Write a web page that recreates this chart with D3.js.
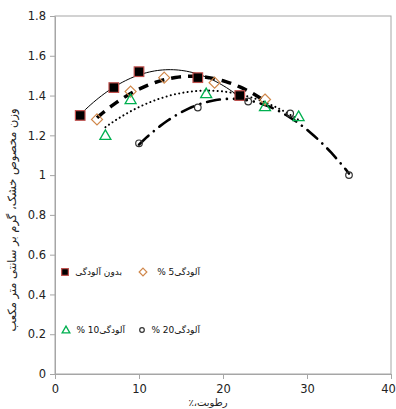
<!DOCTYPE html>
<html>
<head>
<meta charset="utf-8">
<script src="https://cdn.jsdelivr.net/npm/d3@7"></script>
<style>
  body { margin: 0; background: #fff; }
  text { font-family: "DejaVu Sans", sans-serif; }
</style>
</head>
<body>
<div id="chart"></div>
<script>
// moisture (%) vs dry density
const xNone = [3, 7, 10, 17, 22]
const yNone = [1.30, 1.44, 1.52, 1.49, 1.40]
const x5 = [5, 9, 13, 19, 25]
const y5 = [1.28, 1.42, 1.49, 1.465, 1.38]
const x10 = [6, 9, 18, 25, 29]
const y10 = [1.20, 1.38, 1.41, 1.345, 1.295]
const x20 = [10, 17, 23, 28, 35]
const y20 = [1.16, 1.34, 1.37, 1.31, 1.00]

const xTicks = [0, 10, 20, 30, 40]
const yTicks = [0, 0.2, 0.4, 0.6, 0.8, 1, 1.2, 1.4, 1.6, 1.8]

const labels = ["بدون آلودگی", "آلودگی5 %", "آلودگی10 %", "آلودگی20 %"]
const yTitle = "وزن مخصوص خشک، گرم بر سانتی متر مکعب"
const xTitle = "رطوبت،٪"

var width = 396, height = 409
var margin = {top: 16, right: 5, bottom: 35, left: 55}

var svg = d3.select("#chart").append("svg")
    .attr("width", width)
    .attr("height", height)

var x = d3.scaleLinear().domain([0, 40]).range([margin.left, width - margin.right])
var y = d3.scaleLinear().domain([0, 1.8]).range([height - margin.bottom, margin.top])

// plot frame
svg.append("rect")
    .attr("x", x(0)).attr("y", y(1.8))
    .attr("width", x(40) - x(0)).attr("height", y(0) - y(1.8))
    .attr("fill", "none").attr("stroke", "#a6a6a6")

var xAxis = svg.append("g")
    .attr("transform", "translate(0," + y(0) + ")")
    .call(d3.axisBottom(x).tickValues(xTicks).tickSize(5).tickSizeOuter(0))
var yAxis = svg.append("g")
    .attr("transform", "translate(" + x(0) + ",0)")
    .call(d3.axisLeft(y).tickValues(yTicks).tickSize(5).tickSizeOuter(0).tickFormat(d3.format("")))
;[xAxis, yAxis].forEach(a => {
    a.select(".domain").attr("stroke", "#a6a6a6")
    a.selectAll(".tick line").attr("stroke", "#a6a6a6")
    a.selectAll(".tick text").attr("fill", "#222").style("font-size", "11.5px")
})
xAxis.selectAll(".tick text").attr("dy", "0.95em")
// last label sits at the window edge, nudge it in
xAxis.selectAll(".tick text").filter(d => d == 40).attr("dx", "-3px")
yAxis.selectAll(".tick text").attr("dx", "-1px")

// quadratic least-squares trendline, like excel's polynomial trend
function quadFit(xs, ys) {
    let s = [0, 0, 0, 0, 0], t = [0, 0, 0]
    xs.forEach((xi, i) => {
        for (let k = 0; k < 5; k++) s[k] += Math.pow(xi, k)
        for (let k = 0; k < 3; k++) t[k] += ys[i] * Math.pow(xi, k)
    })
    let m = [[s[0], s[1], s[2], t[0]], [s[1], s[2], s[3], t[1]], [s[2], s[3], s[4], t[2]]]
    for (let i = 0; i < 3; i++) {
        for (let j = i + 1; j < 3; j++) {
            let f = m[j][i] / m[i][i]
            for (let k = i; k < 4; k++) m[j][k] -= f * m[i][k]
        }
    }
    let c = [0, 0, 0]
    for (let i = 2; i >= 0; i--) {
        let v = m[i][3]
        for (let k = i + 1; k < 3; k++) v -= m[i][k] * c[k]
        c[i] = v / m[i][i]
    }
    return v => c[0] + c[1] * v + c[2] * v * v
}

var series = [
    {xs: xNone, ys: yNone, dash: null, width: 1, cap: "butt", marker: "square"},
    {xs: x5, ys: y5, dash: "10,7", width: 3.5, cap: "butt", marker: "diamond"},
    {xs: x10, ys: y10, dash: "0.1,4.2", width: 2, cap: "round", marker: "triangle"},
    {xs: x20, ys: y20, dash: "13,7,0.1,7", width: 2.6, cap: "round", marker: "circle"},
]

var line = d3.line().x(d => x(d[0])).y(d => y(d[1]))

series.forEach(s => {
    let f = quadFit(s.xs, s.ys)
    let lo = d3.min(s.xs), hi = d3.max(s.xs)
    let pts = d3.range(0, 61).map(i => {
        let v = lo + (hi - lo) * i / 60
        return [v, f(v)]
    })
    svg.append("path")
        .datum(pts)
        .attr("d", line)
        .attr("fill", "none")
        .attr("stroke", "#000")
        .attr("stroke-width", s.width)
        .attr("stroke-linecap", s.cap)
        .attr("stroke-dasharray", s.dash)
})

function drawMarker(g, type, cx, cy, big) {
    let k = big ? 1 : 0.7
    if (type == "square") {
        g.append("rect").attr("x", cx - 4.8 * k).attr("y", cy - 4.8 * k)
            .attr("width", 9.6 * k).attr("height", 9.6 * k)
            .attr("fill", "#000").attr("stroke", "#c0504d").attr("stroke-width", 1.2)
    } else if (type == "diamond") {
        let r = 5.5 * k
        g.append("path").attr("d", `M${cx},${cy - r}L${cx + r},${cy}L${cx},${cy + r}L${cx - r},${cy}Z`)
            .attr("fill", "none").attr("stroke", "#d0874a").attr("stroke-width", 1.2)
    } else if (type == "triangle") {
        let r = 5.5 * k
        g.append("path").attr("d", `M${cx},${cy - r}L${cx + r},${cy + r * 0.75}L${cx - r},${cy + r * 0.75}Z`)
            .attr("fill", "none").attr("stroke", "#00b050").attr("stroke-width", 1.3)
    } else {
        g.append("circle").attr("cx", cx).attr("cy", cy).attr("r", 3.3 * k)
            .attr("fill", "none").attr("stroke", "#333").attr("stroke-width", 1.2)
    }
}

var markers = svg.append("g")
series.forEach(s => {
    s.xs.forEach((xv, i) => drawMarker(markers, s.marker, x(xv), y(s.ys[i]), true))
})

// legend
var legendPos = [[65, 272, 122], [143, 272, 200], [66, 330, 125], [142, 330, 200]]
var legend = svg.append("g")
series.forEach((s, i) => {
    let p = legendPos[i]
    drawMarker(legend, s.marker, p[0], p[1], false)
    legend.append("text")
        .attr("x", p[2]).attr("y", p[1] + 3)
        .attr("direction", "rtl")
        .attr("text-anchor", "start")
        .style("font-size", "9px")
        .attr("fill", "#111")
        .text(labels[i])
})

// axis titles
svg.append("text")
    .attr("transform", "translate(16," + 220 + ") rotate(-90)")
    .attr("text-anchor", "middle")
    .attr("direction", "rtl")
    .style("font-size", "11.5px")
    .attr("fill", "#222")
    .text(yTitle)

svg.append("text")
    .attr("x", 208).attr("y", 406)
    .attr("text-anchor", "middle")
    .attr("direction", "rtl")
    .style("font-size", "10px")
    .attr("fill", "#222")
    .text(xTitle)
</script>
</body>
</html>
